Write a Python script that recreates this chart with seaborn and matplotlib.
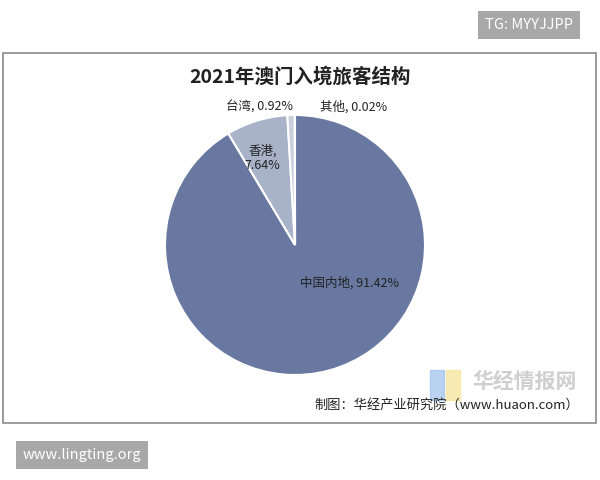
import matplotlib
matplotlib.use("Agg")
import matplotlib.pyplot as plt
import matplotlib.patches as mpatches
import seaborn as sns

# data
regions = ["中国内地", "香港", "台湾", "其他"]
shares = [91.42, 7.64, 0.92, 0.02]
colors = ["#6878A1", "#A8B3CA", "#C9CFDD", "#DCE0EA"]

sns.set_theme(style="white")
plt.rcParams["font.family"] = ["Noto Sans CJK SC", "DejaVu Sans"]

fig = plt.figure(figsize=(6, 4.8), dpi=100)

# outer frame
fig.patches.append(mpatches.Rectangle((3 / 600, 1 - 423 / 480), 593 / 600, 370 / 480,
                                      transform=fig.transFigure, fill=False,
                                      edgecolor="#8a8a8a", linewidth=1.2))

# pie axes
cx, cy, r = 295 / 600, 1 - 245 / 480, 130
ax = fig.add_axes([cx - r / 600, cy - r / 480, 2 * r / 600, 2 * r / 480])
ax.pie(shares, colors=colors, startangle=90, counterclock=False,
       wedgeprops=dict(edgecolor="white", linewidth=1.5))
ax.set_aspect("equal")
ax.set_xlim(-1, 1)
ax.set_ylim(-1, 1)
ax.axis("off")

lbl = dict(fontsize=9, color="#222222", ha="center", va="center")
ax.text(0.42, -0.29, f"{regions[0]}, {shares[0]:.2f}%", **lbl)
ax.text(-0.25, 0.67, f"{regions[1]},\n{shares[1]:.2f}%", linespacing=1.1, **lbl)
ax.text(-0.27, 1.06, f"{regions[2]}, {shares[2]:.2f}%", clip_on=False, **lbl)
ax.text(0.45, 1.06, f"{regions[3]}, {shares[3]:.2f}%", clip_on=False, **lbl)

fig.text(300 / 600, 1 - 77 / 480, "2021年澳门入境旅客结构", ha="center", va="center",
         fontsize=14, fontweight="bold", color="#222222")

# watermark
fig.patches.append(mpatches.Rectangle((430 / 600, 1 - 400 / 480), 14 / 600, 30 / 480,
                                      transform=fig.transFigure, color="#9CC0EC", alpha=0.7))
fig.patches.append(mpatches.Rectangle((446 / 600, 1 - 400 / 480), 14 / 600, 30 / 480,
                                      transform=fig.transFigure, color="#F5E6A0", alpha=0.8))
fig.text(525 / 600, 1 - 381 / 480, "华经情报网", ha="center", va="center",
         fontsize=15, fontweight="bold", color="#cfcfcf")

fig.text(579 / 600, 1 - 405 / 480, "制图：华经产业研究院（www.huaon.com）", ha="right",
         va="center", fontsize=9.5, color="#222222")

# tag boxes
fig.text(529 / 600, 1 - 25 / 480, "TG: MYYJJPP", ha="center", va="center", fontsize=10.5,
         color="white", bbox=dict(boxstyle="square,pad=0.45", fc="#a8a8a8", ec="none"))
fig.text(82 / 600, 1 - 455 / 480, "www.lingting.org", ha="center", va="center", fontsize=10.5,
         color="white", bbox=dict(boxstyle="square,pad=0.45", fc="#a8a8a8", ec="none"))

fig.savefig("out.png", dpi=100, facecolor="white")
